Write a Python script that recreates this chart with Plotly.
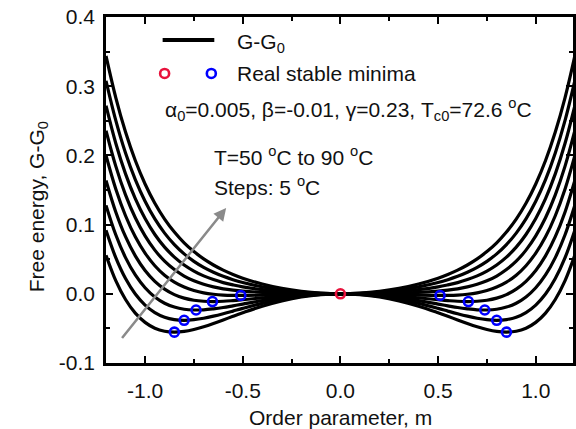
import plotly.graph_objects as go

# ---------------- data ----------------
temps = [50, 55, 60, 65, 70, 75, 80, 85, 90]
m_half = [0.0, 0.1, 0.2, 0.3, 0.4, 0.5, 0.55, 0.6, 0.65, 0.7, 0.75,
          0.8, 0.85, 0.9, 0.95, 1.0, 1.05, 1.1, 1.15, 1.2]

g_50 = [0, -0.0011, -0.0045, -0.0102, -0.0179, -0.0274, -0.0325, -0.0378, -0.0429, -0.0476,
        -0.0515, -0.0543, -0.0553, -0.0541, -0.0497, -0.0413, -0.0279, -0.0082, 0.0191, 0.0558]
g_55 = [0, -0.0009, -0.0035, -0.0079, -0.0139, -0.0211, -0.0250, -0.0288, -0.0323, -0.0353,
        -0.0374, -0.0383, -0.0373, -0.0338, -0.0271, -0.0163, -0.0004, 0.0220, 0.0522, 0.0918]
g_60 = [0, -0.0006, -0.0025, -0.0057, -0.0099, -0.0149, -0.0174, -0.0198, -0.0217, -0.0231,
        -0.0234, -0.0223, -0.0192, -0.0136, -0.0046, 0.0087, 0.0272, 0.0523, 0.0853, 0.1278]
g_65 = [0, -0.0004, -0.0015, -0.0034, -0.0059, -0.0086, -0.0098, -0.0108, -0.0112, -0.0108,
        -0.0093, -0.0063, -0.0012, 0.0067, 0.0180, 0.0337, 0.0548, 0.0825, 0.1183, 0.1638]
g_70 = [0, -0.0001, -0.0005, -0.0012, -0.0019, -0.0024, -0.0023, -0.0018, -0.0006, 0.0014,
        0.0048, 0.0097, 0.0169, 0.0269, 0.0406, 0.0587, 0.0823, 0.1128, 0.1514, 0.1998]
g_75 = [0, 0.0001, 0.0005, 0.0011, 0.0021, 0.0039, 0.0053, 0.0072, 0.0100, 0.0137,
        0.0188, 0.0257, 0.0350, 0.0472, 0.0631, 0.0837, 0.1099, 0.1430, 0.1845, 0.2358]
g_80 = [0, 0.0004, 0.0015, 0.0033, 0.0061, 0.0101, 0.0129, 0.0162, 0.0205, 0.0259,
        0.0329, 0.0417, 0.0530, 0.0674, 0.0857, 0.1087, 0.1375, 0.1733, 0.2175, 0.2718]
g_85 = [0, 0.0006, 0.0025, 0.0056, 0.0101, 0.0164, 0.0204, 0.0252, 0.0311, 0.0382,
        0.0469, 0.0577, 0.0711, 0.0877, 0.1082, 0.1337, 0.1650, 0.2035, 0.2506, 0.3078]
g_90 = [0, 0.0009, 0.0035, 0.0078, 0.0141, 0.0226, 0.0280, 0.0342, 0.0416, 0.0504,
        0.0610, 0.0737, 0.0892, 0.1079, 0.1308, 0.1587, 0.1926, 0.2338, 0.2836, 0.3438]
curves = [g_50, g_55, g_60, g_65, g_70, g_75, g_80, g_85, g_90]

# stable minima (positive side; mirrored for negative m)
min_m = [0.850, 0.800, 0.739, 0.655, 0.510]
min_g = [-0.0554, -0.0383, -0.0234, -0.0112, -0.0024]
center_m = [0.0]
center_g = [0.0]

x_ticks = [-1.0, -0.5, 0.0, 0.5, 1.0]
x_ticktext = ["-1.0", "-0.5", "0.0", "0.5", "1.0"]
y_ticks = [-0.1, 0.0, 0.1, 0.2, 0.3, 0.4]
y_ticktext = ["-0.1", "0.0", "0.1", "0.2", "0.3", "0.4"]

# ---------------- figure ----------------
FONT = "Liberation Sans, Arial, Helvetica, sans-serif"
fig = go.Figure()

for T, g in zip(temps, curves):
    xs = [-m for m in reversed(m_half[1:])] + m_half
    ys = list(reversed(g[1:])) + g
    fig.add_trace(go.Scatter(x=xs, y=ys, mode="lines", name=f"T={T}",
                             line=dict(color="black", width=3.2, shape="spline"),
                             showlegend=False, hoverinfo="skip"))

fig.add_trace(go.Scatter(
    x=[-m for m in min_m] + min_m, y=min_g + min_g, mode="markers",
    marker=dict(symbol="circle-open", size=9, color="#0000ff", line=dict(width=2.6, color="#0000ff")),
    showlegend=False))
fig.add_trace(go.Scatter(
    x=center_m, y=center_g, mode="markers",
    marker=dict(symbol="circle-open", size=9, color="#e8123c", line=dict(width=2.6, color="#e8123c")),
    showlegend=False))

# plot area in pixels: x 106..576, y 17..363.3
L, R, TOP, BOT = 106, 576, 17, 363.3
def px(x):
    return (x - L) / (R - L)
def py(y):
    return (BOT - y) / (BOT - TOP)

shapes = [
    dict(type="line", xref="paper", yref="paper", x0=px(163), x1=px(215), y0=py(40), y1=py(40),
         line=dict(color="black", width=4)),
    dict(type="circle", xref="paper", yref="paper", xsizemode="pixel", ysizemode="pixel",
         xanchor=px(165), yanchor=py(73.5), x0=-4.5, x1=4.5, y0=-4.5, y1=4.5,
         line=dict(color="#e8123c", width=2.6)),
    dict(type="circle", xref="paper", yref="paper", xsizemode="pixel", ysizemode="pixel",
         xanchor=px(212), yanchor=py(73.5), x0=-4.5, x1=4.5, y0=-4.5, y1=4.5,
         line=dict(color="#0000ff", width=2.6)),
]

txt = dict(color="#111111", size=21, family=FONT)
annotations = [
    dict(text="G-G<sub>0</sub>", xref="paper", yref="paper", x=px(236), y=py(43),
         xanchor="left", yanchor="middle", showarrow=False, font=txt),
    dict(text="Real stable minima", xref="paper", yref="paper", x=px(236), y=py(73.5),
         xanchor="left", yanchor="middle", showarrow=False, font=txt),
    dict(text="α<sub>0</sub>=0.005, β=-0.01, γ=0.23, T<sub>c0</sub>=72.6 <sup>o</sup>C",
         xref="paper", yref="paper", x=px(163), y=py(110),
         xanchor="left", yanchor="middle", showarrow=False, font=txt),
    dict(text="T=50 <sup>o</sup>C to 90 <sup>o</sup>C", xref="paper", yref="paper", x=px(213), y=py(156),
         xanchor="left", yanchor="middle", showarrow=False, font=txt),
    dict(text="Steps: 5 <sup>o</sup>C", xref="paper", yref="paper", x=px(213), y=py(186),
         xanchor="left", yanchor="middle", showarrow=False, font=txt),
    # arrow (T increasing)
    dict(text="", x=-0.585, y=0.124, ax=-1.124, ay=-0.066, xref="x", yref="y",
         axref="x", ayref="y", showarrow=True, arrowhead=2, arrowsize=1.0,
         arrowwidth=2.5, arrowcolor="#8a8a8a", standoff=0, startstandoff=0),
    # axis titles
    dict(text="Order parameter, m", xref="paper", yref="paper", x=px(341.7), y=py(418),
         xanchor="center", yanchor="middle", showarrow=False, font=txt),
    dict(text="Free energy, G-G<sub>0</sub>", xref="paper", yref="paper", x=px(37), y=py(207),
         xanchor="center", yanchor="middle", textangle=-90, showarrow=False, font=txt),
]

axis_common = dict(showline=True, linecolor="black", linewidth=2.5, mirror="ticks",
                   ticks="inside", ticklen=7, tickwidth=2, tickcolor="black",
                   showgrid=False, zeroline=False,
                   tickfont=dict(size=21, color="#111111", family=FONT))

fig.update_layout(
    width=576, height=429,
    margin=dict(l=L, r=0, t=TOP, b=429 - BOT),
    paper_bgcolor="white", plot_bgcolor="white",
    xaxis=dict(range=[-1.2, -1.2 + (R - L) / 196.6], tickvals=x_ticks, ticktext=x_ticktext,
               minor=dict(dtick=0.25, tick0=0, ticks="inside", ticklen=4, tickwidth=2, tickcolor="black"),
               ticklabelstandoff=7, **axis_common),
    yaxis=dict(range=[-0.1, 0.4], tickvals=y_ticks, ticktext=y_ticktext,
               minor=dict(dtick=0.05, tick0=0, ticks="inside", ticklen=4, tickwidth=2, tickcolor="black"),
               ticklabelstandoff=4, **axis_common),
    shapes=shapes, annotations=annotations,
    showlegend=False,
)

fig.write_html("out.html")
